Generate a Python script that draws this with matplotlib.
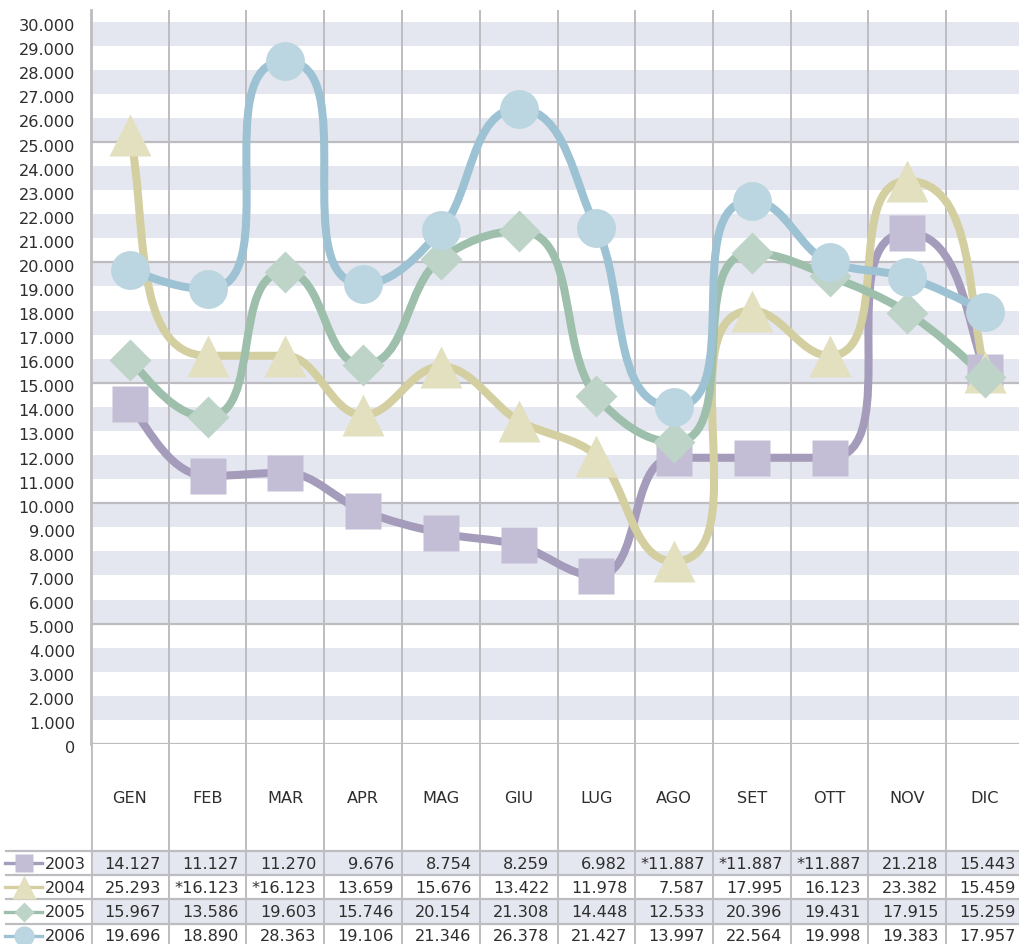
import numpy as np
import matplotlib
matplotlib.use('Agg')
import matplotlib.pyplot as plt
from matplotlib.path import Path
from matplotlib.patches import PathPatch
from matplotlib.lines import Line2D
import matplotlib.transforms as mtransforms

plt.rcParams['font.family'] = ['DejaVu Sans']

# data
months = ['GEN', 'FEB', 'MAR', 'APR', 'MAG', 'GIU', 'LUG', 'AGO', 'SET', 'OTT', 'NOV', 'DIC']
years = ['2003', '2004', '2005', '2006']
v2003 = [14127, 11127, 11270, 9676, 8754, 8259, 6982, 11887, 11887, 11887, 21218, 15443]
v2004 = [25293, 16123, 16123, 13659, 15676, 13422, 11978, 7587, 17995, 16123, 23382, 15459]
v2005 = [15967, 13586, 19603, 15746, 20154, 21308, 14448, 12533, 20396, 19431, 17915, 15259]
v2006 = [19696, 18890, 28363, 19106, 21346, 26378, 21427, 13997, 22564, 19998, 19383, 17957]
# months marked with * in the table (estimated values)
est2003 = ['AGO', 'SET', 'OTT']
est2004 = ['FEB', 'MAR']
est2005 = []
est2006 = []

series = [v2003, v2004, v2005, v2006]
estimated = [est2003, est2004, est2005, est2006]
line_colors = ['#a59bbb', '#d4cfa1', '#9dbfab', '#9cc2d3']
marker_colors = ['#c3bed5', '#e3e0c0', '#bed4c8', '#bcd6e1']
markers = ['s', '^', 'D', 'o']
marker_sizes = [26.5, 30, 21.5, 28]
legend_sizes = [13, 17, 10.5, 14.5]

band_color = '#e4e7ef'
grid_color = '#bdbdc1'
text_color = '#2e2e2e'
FS = 11.6

W, H = 1019, 945
col_w = 77.75
left_px = 91
zero_px = 745
top_px = 11
px_per_k = 24.08
smooth = 1 / 3


def fmt(v):
    return f"{v:,}".replace(',', '.')


def smooth_path(ax, xs, ys):
    # bezier through the points, flat at peaks, handles scaled by chord length (screen space)
    P = ax.transData.transform(np.column_stack([xs, ys]))
    n = len(P)
    s = np.diff(P[:, 1]) / np.diff(P[:, 0])
    t = np.zeros(n)
    for i in range(1, n - 1):
        s0, s1 = s[i - 1], s[i]
        p = (s0 + s1) / 2
        t[i] = (np.sign(s0) + np.sign(s1)) * min(abs(s0), abs(s1), 0.5 * abs(p))
    t[0] = (3 * s[0] - t[1]) / 2
    t[-1] = (3 * s[-1] - t[-2]) / 2
    d = np.column_stack([np.ones(n), t])
    d /= np.linalg.norm(d, axis=1)[:, None]
    verts = [P[0]]
    codes = [Path.MOVETO]
    for i in range(n - 1):
        L = smooth * np.linalg.norm(P[i + 1] - P[i])
        verts += [P[i] + L * d[i], P[i + 1] - L * d[i + 1], P[i + 1]]
        codes += [Path.CURVE4] * 3
    verts = ax.transData.inverted().transform(np.array(verts))
    return Path(verts, codes)


fig = plt.figure(figsize=(W / 100, H / 100), dpi=100)
ax_w = 12 * col_w / W
ax = fig.add_axes([left_px / W, (H - zero_px) / H, ax_w, (zero_px - top_px) / H])
ytop = (zero_px - top_px) / px_per_k * 1000
ax.set_xlim(-0.5, 11.5)
ax.set_ylim(0, ytop)

for k in range(1, 30, 2):
    ax.axhspan(k * 1000, (k + 1) * 1000, color=band_color, lw=0, zorder=0)
for v in range(0, 30000, 5000):
    ax.axhline(v, color=grid_color, lw=1.6, zorder=1)
for i in range(11):
    ax.axvline(i + 0.5, color=grid_color, lw=1.4, zorder=1)

for sp in ['top', 'right', 'bottom']:
    ax.spines[sp].set_visible(False)
ax.spines['left'].set_color(grid_color)
ax.spines['left'].set_linewidth(2)
ax.set_xticks([])
yt = list(range(0, 30001, 1000))
ax.set_yticks(yt)
ax.set_yticklabels([fmt(v) for v in yt], fontsize=FS, color=text_color)
ax.tick_params(axis='y', length=0, pad=11.5)
shift = mtransforms.ScaledTranslation(0, -2.5 / 100, fig.dpi_scale_trans)
for lab in ax.get_yticklabels():
    lab.set_transform(lab.get_transform() + shift)

x = np.arange(len(months))
for vals, lc in zip(series, line_colors):
    ax.add_patch(PathPatch(smooth_path(ax, x, vals), fill=False, edgecolor=lc, lw=5.8,
                           capstyle='round', joinstyle='round', zorder=3))
for vals, mc, mk, ms in zip(series, marker_colors, markers, marker_sizes):
    ax.plot(x, vals, linestyle='none', marker=mk, ms=ms, color=mc, mec='none', zorder=4)

# table under the chart
tab_h = H - zero_px
tax = fig.add_axes([left_px / W, 0, ax_w, tab_h / H])
tax.set_xlim(-0.5, 11.5)
tax.set_ylim(tab_h, 0)
tax.axis('off')
cat_h = 107
row_h = 24.2
row_top = [cat_h + i * row_h for i in range(len(years))]

for i, rt in enumerate(row_top):
    if i % 2 == 0:
        tax.axhspan(rt, rt + row_h, color=band_color, lw=0, zorder=0)

x_leftmost = -0.5 + (5 - left_px) / col_w
for rt in row_top:
    tax.hlines(rt, x_leftmost, 11.5, color=grid_color, lw=1.6, clip_on=False, zorder=2)
for i in range(11):
    tax.vlines(i + 0.5, 0, tab_h, color=grid_color, lw=1.4, zorder=2)
tax.vlines(-0.5, 0, tab_h, color=grid_color, lw=2, zorder=2)

for i, m in enumerate(months):
    tax.text(i, cat_h / 2, m, ha='center', va='center', fontsize=FS, color=text_color)

for r, (vals, est) in enumerate(zip(series, estimated)):
    yc = row_top[r] + row_h / 2
    for i, v in enumerate(vals):
        s = ('*' if months[i] in est else '') + fmt(v)
        tax.text(i + 0.5 - 8 / col_w, yc, s, ha='right', va='center',
                 fontsize=FS, color=text_color)

# legend keys at the left of the table rows
trans = mtransforms.blended_transform_factory(fig.transFigure, tax.transData)
for r, yr in enumerate(years):
    yc = row_top[r] + row_h / 2
    tax.add_line(Line2D([5 / W, 42 / W], [yc, yc], transform=trans, color=line_colors[r],
                        lw=2.4, clip_on=False))
    tax.add_line(Line2D([23.5 / W], [yc], transform=trans, marker=markers[r],
                        ms=legend_sizes[r], color=marker_colors[r], mec='none',
                        linestyle='none', clip_on=False))
    tax.text(45 / W, yc, yr, transform=trans, ha='left', va='center',
             fontsize=FS, color=text_color)

fig.savefig('out.png', dpi=100)
